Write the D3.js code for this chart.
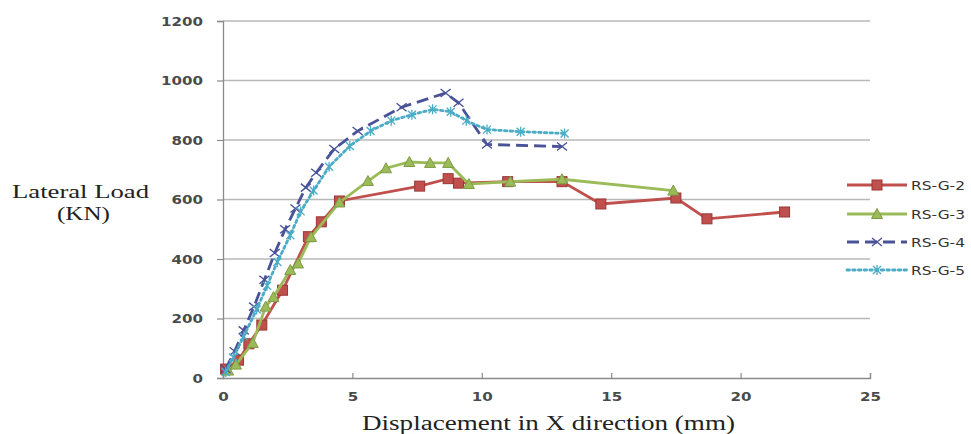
<!DOCTYPE html>
<html><head><meta charset="utf-8">
<script src="https://cdn.jsdelivr.net/npm/d3@7"></script>
<style>body{margin:0;background:#fff}</style>
</head><body>
<svg id="c" width="971" height="434"></svg>
<script>
const seriesNames = ["RS-G-2","RS-G-3","RS-G-4","RS-G-5"];
const rsg2 = [[0.1,30],[0.6,60],[1.0,115],[1.5,178],[2.3,295],[3.3,475],[3.8,525],[4.5,595],[7.6,645],[8.7,670],[9.1,655],[11.0,660],[13.1,660],[14.6,585],[17.5,605],[18.7,535],[21.7,558]];
const rsg3 = [[0.2,25],[0.5,45],[1.15,118],[1.65,240],[1.95,272],[2.6,363],[2.9,385],[3.4,474],[4.5,590],[5.6,662],[6.3,705],[7.2,726],[8.0,723],[8.7,723],[9.5,652],[11.1,660],[13.1,668],[17.4,630]];
const rsg4 = [[0.1,30],[0.45,90],[0.8,160],[1.2,240],[1.6,330],[2.0,420],[2.4,500],[2.8,570],[3.2,640],[3.6,690],[4.3,770],[5.2,830],[6.9,910],[8.6,958],[9.1,925],[10.2,785],[13.1,778]];
const rsg5 = [[0.1,20],[0.4,70],[0.8,140],[1.3,230],[1.7,310],[2.1,390],[2.6,480],[3.0,560],[3.5,630],[4.1,710],[4.9,780],[5.7,830],[6.5,865],[7.3,885],[8.1,903],[8.8,895],[9.4,865],[10.2,835],[11.5,828],[13.2,822]];
const xTicks = [0,5,10,15,20,25];
const yTicks = [0,200,400,600,800,1000,1200];

const svg = d3.select("#c");
const L=223,R=870,T=21,B=378;
const x = d3.scaleLinear().domain([0,25]).range([L,R]);
const y = d3.scaleLinear().domain([0,1200]).range([B,T]);

// gridlines
svg.append("g").selectAll("line").data(yTicks.filter(d=>d>0)).join("line")
  .attr("x1",L).attr("x2",R).attr("y1",d=>y(d)).attr("y2",d=>y(d))
  .attr("stroke","#b8b8b8").attr("stroke-width",1.3);

// axes
const fmt = d3.format("d");
const yAxis = d3.axisLeft(y).tickValues(yTicks).tickFormat(fmt).tickSize(6).tickPadding(14);
const gy = svg.append("g").attr("transform",`translate(${L},0)`).call(yAxis);
const xAxis = d3.axisBottom(x).tickValues(xTicks).tickFormat(fmt).tickSize(-5).tickPadding(14);
const gx = svg.append("g").attr("transform",`translate(0,${B})`).call(xAxis);
[gx,gy].forEach(g=>{
  g.select(".domain").attr("stroke","#8a8a8a").attr("stroke-width",1.3);
  g.selectAll(".tick line").attr("stroke","#8a8a8a").attr("stroke-width",1.2);
  g.selectAll("text").attr("font-family","'DejaVu Sans', sans-serif").attr("font-size",13)
   .attr("fill","#4a4a4a").attr("font-weight",600)
   .attr("textLength",function(){return this.textContent.length*10.5;})
   .attr("lengthAdjust","spacingAndGlyphs");
});

const colors = ["#c0504d","#9bbb59","#4a5298","#4bacc6"];
const dashes = [null,null,"12,6","2.5,3.2"];
const data = [rsg2,rsg3,rsg4,rsg5];
const line = d3.line().x(d=>x(d[0])).y(d=>y(d[1]));

function marker(g,i,cx,cy){
  const c=colors[i];
  if(i===0){
    g.append("rect").attr("x",cx-5).attr("y",cy-5).attr("width",10).attr("height",10)
     .attr("fill",c).attr("stroke","#9a3633").attr("stroke-width",1);
  } else if(i===1){
    g.append("path").attr("d",`M${cx},${cy-5.5}L${cx+5.5},${cy+4.5}L${cx-5.5},${cy+4.5}Z`)
     .attr("fill",c).attr("stroke","#7f9a45").attr("stroke-width",1);
  } else if(i===2){
    g.append("path").attr("d",`M${cx-5},${cy-4}L${cx+5},${cy+4}M${cx-5},${cy+4}L${cx+5},${cy-4}`)
     .attr("stroke",c).attr("stroke-width",1.4).attr("fill","none");
  } else {
    g.append("path").attr("d",`M${cx-4},${cy-4}L${cx+4},${cy+4}M${cx-4},${cy+4}L${cx+4},${cy-4}M${cx},${cy-5}L${cx},${cy+5}`)
     .attr("stroke",c).attr("stroke-width",1.3).attr("fill","none");
  }
}

data.forEach((s,i)=>{
  const g = svg.append("g");
  g.append("path").datum(s).attr("d",line).attr("fill","none")
   .attr("stroke",colors[i]).attr("stroke-width",2.8)
   .attr("stroke-dasharray",dashes[i]).attr("stroke-linecap",i===3?"round":"butt");
  s.forEach(d=>marker(g,i,x(d[0]),y(d[1])));
});

// legend
const legY = [185,214,242,270];
seriesNames.forEach((n,i)=>{
  const g = svg.append("g");
  g.append("line").attr("x1",847).attr("x2",907).attr("y1",legY[i]).attr("y2",legY[i])
   .attr("stroke",colors[i]).attr("stroke-width",2.8).attr("stroke-dasharray",dashes[i])
   .attr("stroke-linecap",i===3?"round":"butt");
  marker(g,i,877,legY[i]);
  g.append("text").attr("x",911).attr("y",legY[i]+4.5).text(n)
   .attr("font-family","'DejaVu Sans', sans-serif").attr("font-size",12).attr("fill","#333")
   .attr("textLength",54).attr("lengthAdjust","spacingAndGlyphs");
});

// axis titles
svg.append("text").attr("x",362).attr("y",430)
  .attr("font-family","'Liberation Serif', serif").attr("font-size",20).attr("fill","#222")
  .attr("textLength",373).attr("lengthAdjust","spacingAndGlyphs")
  .text("Displacement in X direction (mm)");
svg.append("text").attr("x",12).attr("y",198)
  .attr("font-family","'Liberation Serif', serif").attr("font-size",19).attr("fill","#222")
  .attr("textLength",137).attr("lengthAdjust","spacingAndGlyphs").text("Lateral Load");
svg.append("text").attr("x",57).attr("y",220)
  .attr("font-family","'Liberation Serif', serif").attr("font-size",19).attr("fill","#222")
  .attr("textLength",53).attr("lengthAdjust","spacingAndGlyphs").text("(KN)");
</script>
</body></html>
